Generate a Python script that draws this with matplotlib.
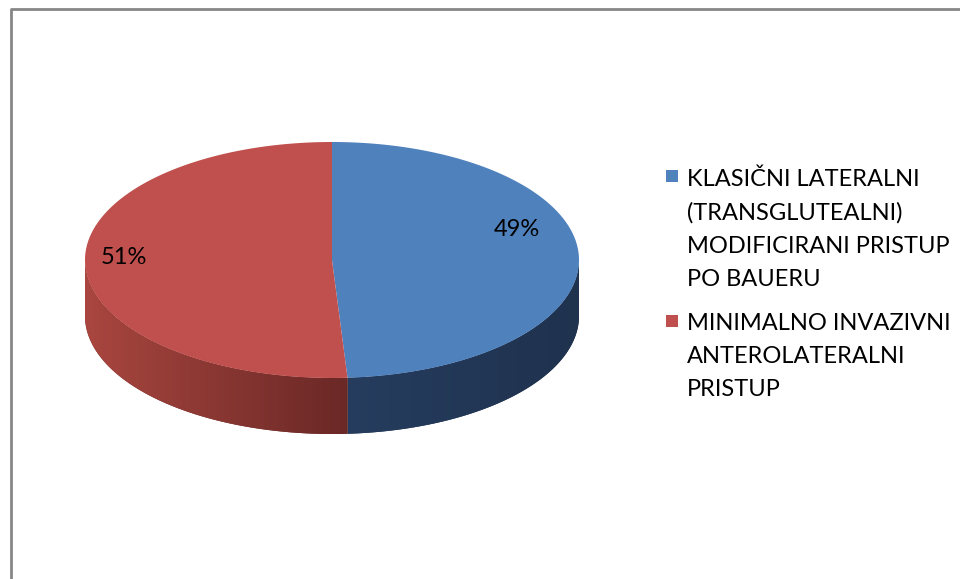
import numpy as np
import matplotlib.pyplot as plt
from matplotlib.patches import Polygon, Rectangle
from matplotlib.colors import LinearSegmentedColormap

plt.rcParams['font.family'] = ['Lato', 'DejaVu Sans']

labels = ["KLASIČNI LATERALNI\n(TRANSGLUTEALNI)\nMODIFICIRANI PRISTUP\nPO BAUERU",
          "MINIMALNO INVAZIVNI\nANTEROLATERALNI\nPRISTUP"]
values = [49, 51]
top_colors = ["#4F81BD", "#C0504D"]
side_colors = [("#263D5F", "#1F324E"), ("#A9463F", "#6A2826")]

# pie geometry in pixels
cx, cy = 332, 260
a, b = 247, 118
depth = 56

fig = plt.figure(figsize=(9.6, 5.79), dpi=100)
ax = fig.add_axes([0, 0, 1, 1])
ax.set_xlim(0, 960)
ax.set_ylim(579, 0)
ax.axis('off')

# chart border (only left and top visible)
ax.plot([10.5, 10.5, 960], [579, 8.5, 8.5], color="#868686", lw=2, solid_capstyle='butt')

def pt(t, dy=0):
    return cx + a * np.cos(t), cy - b * np.sin(t) + dy

fr = np.array(values) / sum(values)
bounds = np.radians(90 - 360 * np.concatenate([[0], np.cumsum(fr)]))

# side walls first
for i in range(len(values)):
    t_start, t_end = bounds[i], bounds[i + 1]   # clockwise
    lo, hi = -np.pi, 0.0
    for shift in [0, -2 * np.pi, 2 * np.pi]:
        s = min(t_start + shift, hi)
        e = max(t_end + shift, lo)
        if s <= e:
            continue
        ts = np.linspace(s, e, 120)
        xs, ys = pt(ts)
        xb, yb = pt(ts[::-1], depth)
        poly = Polygon(np.column_stack([np.r_[xs, xb], np.r_[ys, yb]]),
                       closed=True, facecolor=side_colors[i][1], edgecolor='none')
        ax.add_patch(poly)
        x0, x1 = xs.min(), xs.max()
        cmap = LinearSegmentedColormap.from_list("s%d" % i, side_colors[i])
        grad = np.linspace(0, 1, 256).reshape(1, -1)
        im = ax.imshow(grad, cmap=cmap, extent=[x0, x1, cy + b + depth + 2, cy - 2],
                       aspect='auto', zorder=2)
        im.set_clip_path(poly)

# top sectors
for i in range(len(values)):
    ts = np.linspace(bounds[i], bounds[i + 1], 300)
    xs, ys = pt(ts)
    poly = Polygon(np.column_stack([np.r_[cx, xs], np.r_[cy, ys]]), closed=True,
                   facecolor=top_colors[i], edgecolor='none', zorder=3)
    ax.add_patch(poly)

# percentage labels
label_pos = [(517, 230), (124, 258)]
for v, (lx, ly) in zip(values, label_pos):
    ax.text(lx, ly, "%d%%" % v, fontsize=17, color="black", ha='center', va='center', zorder=4)

# legend
leg_y = [176, 321]
for i, (lab, y) in enumerate(zip(labels, leg_y)):
    ax.add_patch(Rectangle((666, y - 6), 12, 12, facecolor=top_colors[i], edgecolor='none'))
    ax.text(687, y - 8, lab, fontsize=17, va='top', ha='left', linespacing=1.72)

fig.savefig("out.png", dpi=100)
